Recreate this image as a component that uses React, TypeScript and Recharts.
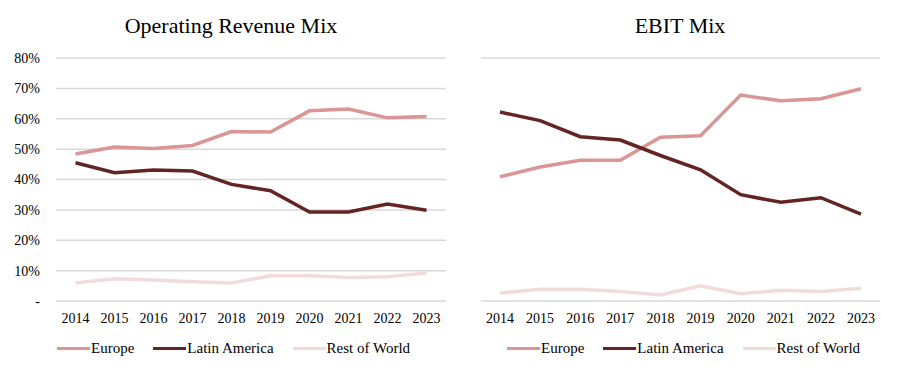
import { LineChart, Line, XAxis, YAxis, CartesianGrid } from 'recharts';

const years = ['2014', '2015', '2016', '2017', '2018', '2019', '2020', '2021', '2022', '2023'];

// Operating revenue mix (share of total)
const revEurope = [0.484, 0.507, 0.502, 0.512, 0.558, 0.556, 0.626, 0.632, 0.603, 0.607];
const revLatam = [0.455, 0.422, 0.431, 0.428, 0.384, 0.363, 0.293, 0.293, 0.319, 0.299];
const revRow = [0.059, 0.073, 0.069, 0.063, 0.059, 0.083, 0.083, 0.077, 0.080, 0.092];

// EBIT mix (share of total)
const ebitEurope = [0.409, 0.441, 0.463, 0.463, 0.539, 0.544, 0.678, 0.659, 0.666, 0.699];
const ebitLatam = [0.622, 0.594, 0.541, 0.530, 0.479, 0.432, 0.350, 0.325, 0.340, 0.286];
const ebitRow = [0.026, 0.039, 0.039, 0.031, 0.020, 0.050, 0.024, 0.035, 0.031, 0.042];

const yTicks = [0, 0.1, 0.2, 0.3, 0.4, 0.5, 0.6, 0.7, 0.8];

const seriesNames = ['Europe', 'Latin America', 'Rest of World'];
const seriesColors = ['#D99694', '#632523', '#F2DCDB'];

const FONT = "'Liberation Serif', 'Times New Roman', serif";

const buildRows = (a: number[], b: number[], c: number[]) =>
    years.map((year, i) => ({ year, europe: a[i], latam: b[i], row: c[i] }));

const revenueData = buildRows(revEurope, revLatam, revRow);
const ebitData = buildRows(ebitEurope, ebitLatam, ebitRow);

const fmtPct = (v: number) => (v === 0 ? '-' : `${Math.round(v * 100)}%`);

interface MixChartProps {
    title: string;
    data: { year: string; europe: number; latam: number; row: number }[];
    left: number;
    width: number;
    showYLabels: boolean;
    yAxisWidth: number;
    rightMargin: number;
    xPad: number;
    titleCenter: number;
    legendLeft: number;
}

function MixChart({ title, data, left, width, showYLabels, yAxisWidth, rightMargin, xPad, titleCenter, legendLeft }: MixChartProps) {
    return (
        <>
            <div
                style={{
                    position: 'absolute',
                    left: titleCenter - 200,
                    top: 15,
                    width: 400,
                    textAlign: 'center',
                    fontSize: 22,
                    lineHeight: '22px',
                    color: '#000',
                }}
            >
                {title}
            </div>
            <div style={{ position: 'absolute', left, top: 0 }}>
                <LineChart
                    width={width}
                    height={371}
                    data={data}
                    margin={{ top: 58, right: rightMargin, bottom: 40, left: 0 }}
                    style={{ fontFamily: FONT }}
                >
                    <CartesianGrid vertical={false} stroke="#D9D9D9" strokeWidth={1.5} />
                    <XAxis
                        dataKey="year"
                        axisLine={false}
                        tickLine={false}
                        interval={0}
                        height={30}
                        tickMargin={6}
                        padding={{ left: xPad, right: xPad }}
                        tick={{ fill: '#000', fontSize: 14, fontFamily: FONT }}
                    />
                    <YAxis
                        domain={[0, 0.8]}
                        ticks={yTicks}
                        width={yAxisWidth}
                        axisLine={false}
                        tickLine={false}
                        tickMargin={10}
                        tickFormatter={fmtPct}
                        tick={showYLabels ? { fill: '#000', fontSize: 14, fontFamily: FONT } : false}
                    />
                    <Line type="linear" dataKey="europe" stroke={seriesColors[0]} strokeWidth={3.5} dot={false} isAnimationActive={false} />
                    <Line type="linear" dataKey="latam" stroke={seriesColors[1]} strokeWidth={3.5} dot={false} isAnimationActive={false} />
                    <Line type="linear" dataKey="row" stroke={seriesColors[2]} strokeWidth={3.5} dot={false} isAnimationActive={false} />
                </LineChart>
            </div>
            {/* legend */}
            <div
                style={{
                    position: 'absolute',
                    left: legendLeft,
                    top: 340,
                    height: 17,
                    display: 'flex',
                    alignItems: 'center',
                    gap: 19,
                    fontSize: 15,
                    color: '#000',
                }}
            >
                {seriesNames.map((name, i) => (
                    <div key={name} style={{ display: 'flex', alignItems: 'center' }}>
                        <span style={{ display: 'inline-block', width: 33, height: 3.5, background: seriesColors[i], marginRight: 1 }} />
                        <span>{name}</span>
                    </div>
                ))}
            </div>
        </>
    );
}

export default function App() {
    return (
        <div
            style={{
                position: 'absolute',
                left: 0,
                top: 0,
                width: 898,
                height: 371,
                background: '#fff',
                overflow: 'hidden',
                fontFamily: FONT,
            }}
        >
            <MixChart
                title="Operating Revenue Mix"
                data={revenueData}
                left={0}
                width={450}
                showYLabels={true}
                yAxisWidth={56}
                rightMargin={4}
                xPad={19.5}
                titleCenter={231}
                legendLeft={57}
            />
            <MixChart
                title="EBIT Mix"
                data={ebitData}
                left={450}
                width={448}
                showYLabels={false}
                yAxisWidth={31}
                rightMargin={18}
                xPad={19}
                titleCenter={680}
                legendLeft={507}
            />
        </div>
    );
}
